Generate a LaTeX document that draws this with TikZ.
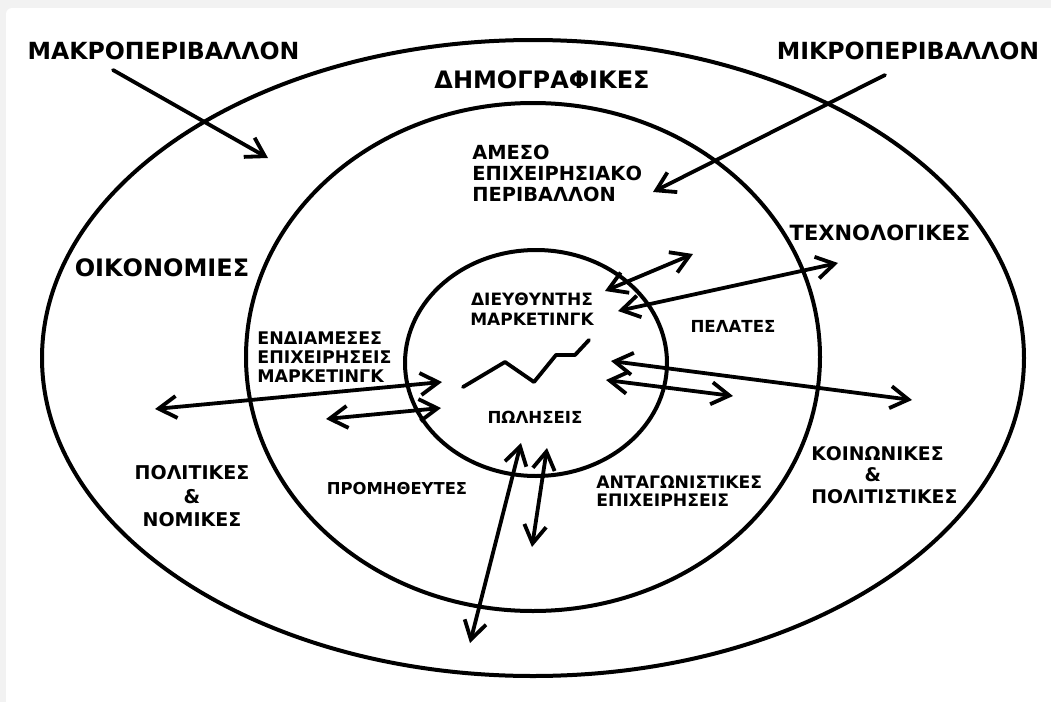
\documentclass[tikz,border=0pt]{standalone}
\usepackage{fontspec}
\setmainfont{DejaVu Sans}
\usetikzlibrary{arrows.meta}
\begin{document}
\begin{tikzpicture}[x=0.5pt,y=-0.5pt,
  ring/.style={line width=2pt},
  conn/.style={line width=1.9pt, line cap=round, line join=round},
  onehead/.style={conn, -{Straight Barb[length=9pt,width=11pt]}},
  twohead/.style={conn, {Straight Barb[length=9pt,width=11pt]}-{Straight Barb[length=9pt,width=11pt]}},
  lbl/.style={inner sep=0pt, font=\bfseries},
]
\useasboundingbox (0,0) rectangle (1051,702);
\fill[gray!10] (0,0) rectangle (1051,702);
\fill[white] (6,702) [rounded corners=3pt] -- (6,8) [sharp corners] -- (1051,8) -- (1051,702) -- cycle;

% rings
\draw[ring] (533,358) ellipse [x radius=245.5pt, y radius=159pt];
\draw[ring] (533,357) ellipse [x radius=143.5pt, y radius=127pt];
\draw[ring] (536,363) ellipse [x radius=65.5pt, y radius=56.5pt];

% labels
\node[lbl, font=\bfseries\fontsize{11.8pt}{13pt}\selectfont] (makro) at (163.5,50.5) {ΜΑΚΡΟΠΕΡΙΒΑΛΛΟΝ};
\node[lbl, font=\bfseries\fontsize{11.8pt}{13pt}\selectfont] (mikro) at (908,50.5) {ΜΙΚΡΟΠΕΡΙΒΑΛΛΟΝ};
\node[lbl, font=\bfseries\fontsize{12pt}{13pt}\selectfont] (dimo) at (542,80) {ΔΗΜΟΓΡΑΦΙΚΕΣ};
\node[lbl, font=\bfseries\fontsize{12pt}{13pt}\selectfont] (oiko) at (162,268) {ΟΙΚΟΝΟΜΙΕΣ};
\node[lbl, font=\bfseries\fontsize{10.5pt}{12pt}\selectfont] (tech) at (880,233) {ΤΕΧΝΟΛΟΓΙΚΕΣ};
\node[lbl, anchor=north west, align=left, font=\bfseries\fontsize{9.7pt}{10.5pt}\selectfont] (ameso) at (472,145) {ΑΜΕΣΟ\\ΕΠΙΧΕΙΡΗΣΙΑΚΟ\\ΠΕΡΙΒΑΛΛΟΝ};
\node[lbl, anchor=north west, align=left, font=\bfseries\fontsize{8.7pt}{9.5pt}\selectfont] (endia) at (257,331) {ΕΝΔΙΑΜΕΣΕΣ\\ΕΠΙΧΕΙΡΗΣΕΙΣ\\ΜΑΡΚΕΤΙΝΓΚ};
\node[lbl, anchor=north, align=center, font=\bfseries\fontsize{8.5pt}{10pt}\selectfont] (dieu) at (532,292) {ΔΙΕΥΘΥΝΤΗΣ\\ΜΑΡΚΕΤΙΝΓΚ};
\node[lbl, font=\bfseries\fontsize{8.3pt}{10pt}\selectfont] (pol) at (535,417) {ΠΩΛΗΣΕΙΣ};
\node[lbl, font=\bfseries\fontsize{8.3pt}{10pt}\selectfont] (pel) at (733,326) {ΠΕΛΑΤΕΣ};
\node[lbl, font=\bfseries\fontsize{8.2pt}{10pt}\selectfont] (prom) at (397,489) {ΠΡΟΜΗΘΕΥΤΕΣ};
\node[lbl, anchor=north west, align=left, font=\bfseries\fontsize{8.6pt}{9pt}\selectfont] (antag) at (596,475) {ΑΝΤΑΓΩΝΙΣΤΙΚΕΣ\\ΕΠΙΧΕΙΡΗΣΕΙΣ};
\node[lbl, anchor=north west, align=left, font=\bfseries\fontsize{9.4pt}{10.75pt}\selectfont] (koin) at (811,446) {ΚΟΙΝΩΝΙΚΕΣ\\\hphantom{ΚΟΙΝ}\&\\ΠΟΛΙΤΙΣΤΙΚΕΣ};
\node[lbl, anchor=north, align=center, font=\bfseries\fontsize{9.5pt}{11.75pt}\selectfont] (polit) at (192,465) {ΠΟΛΙΤΙΚΕΣ\\\&\\ΝΟΜΙΚΕΣ};

% arrow end points
\coordinate (a1s) at (113,70);  \coordinate (a1e) at (268,158);
\coordinate (a2s) at (885,75);  \coordinate (a2e) at (653,192);
\coordinate (b1s) at (605,291); \coordinate (b1e) at (693,254);
\coordinate (b2s) at (618,311); \coordinate (b2e) at (838,263);
\coordinate (b3s) at (611,361); \coordinate (b3e) at (912,400);
\coordinate (b4s) at (606,380); \coordinate (b4e) at (733,396);
\coordinate (b5s) at (155,409); \coordinate (b5e) at (442,382);
\coordinate (b6s) at (326,419); \coordinate (b6e) at (441,408);
\coordinate (b7s) at (521,443); \coordinate (b7e) at (470,643);
\coordinate (b8s) at (547,448); \coordinate (b8e) at (532,547);

\draw[onehead] (a1s) -- (a1e);
\draw[onehead] (a2s) -- (a2e);
\foreach \k in {b1,b2,b3,b4,b5,b6,b7,b8}
  \draw[twohead] (\k s) -- (\k e);

% sales graph
\draw[conn] (463,387) -- (505,362) -- (534,382) -- (556,355) -- (575,355) -- (589,340);
\end{tikzpicture}
\end{document}
